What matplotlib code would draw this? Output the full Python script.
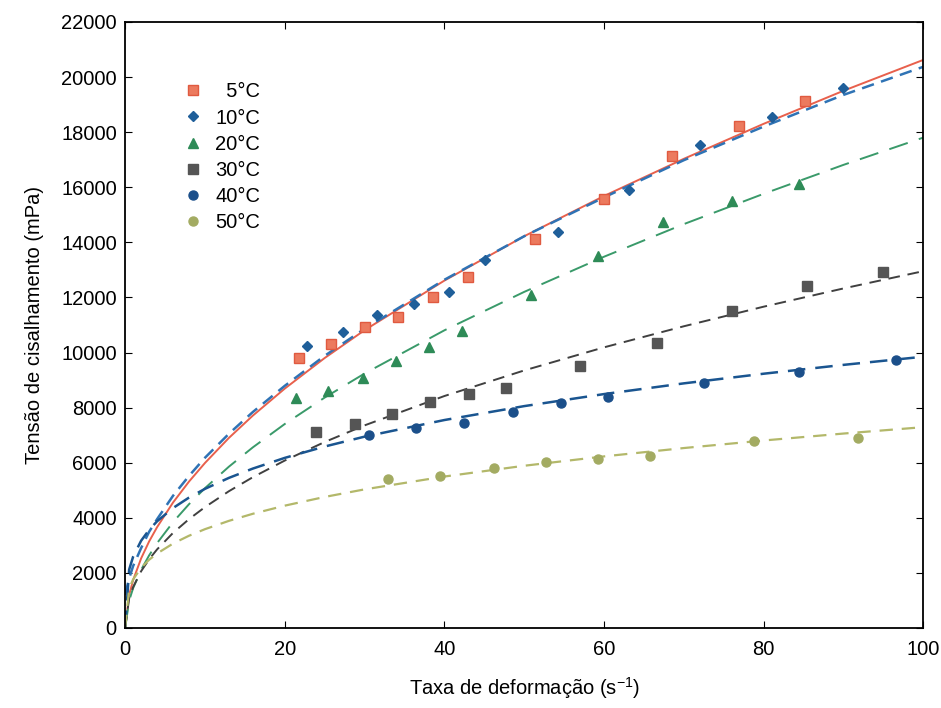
import numpy as np
import matplotlib
matplotlib.use("Agg")
import matplotlib.pyplot as plt

plt.rcParams['font.family'] = ['Liberation Sans', 'DejaVu Sans']
plt.rcParams['mathtext.default'] = 'regular'

# measured points (taxa de deformacao, tensao)
x5 = [21.75, 25.75, 30.1, 34.25, 38.6, 43.0, 51.4, 60.0, 68.5, 76.9, 85.25]
y5 = [9800, 10310, 10930, 11290, 12010, 12740, 14120, 15570, 17130, 18220, 19130]
x10 = [22.75, 27.25, 31.6, 36.25, 40.6, 45.1, 54.25, 63.1, 72.0, 81.0, 90.0]
y10 = [10240, 10740, 11360, 11760, 12200, 13360, 14370, 15900, 17530, 18550, 19600]
x20 = [21.4, 25.4, 29.75, 34.0, 38.1, 42.25, 50.9, 59.25, 67.4, 76.0, 84.4]
y20 = [8350, 8600, 9070, 9690, 10200, 10780, 12090, 13500, 14740, 15500, 16120]
x30 = [23.9, 28.75, 33.5, 38.25, 43.1, 47.75, 57.0, 66.6, 76.1, 85.4, 95.0]
y30 = [7110, 7410, 7770, 8210, 8500, 8710, 9510, 10350, 11510, 12410, 12920]
x40 = [30.5, 36.5, 42.5, 48.6, 54.6, 60.5, 72.5, 84.5, 96.6]
y40 = [7000, 7260, 7440, 7840, 8170, 8380, 8890, 9290, 9730]
x50 = [32.9, 39.5, 46.25, 52.75, 59.25, 65.75, 78.75, 91.9]
y50 = [5410, 5520, 5810, 6030, 6140, 6240, 6800, 6900]

# fitted curves
xfit = [0, 0.5, 1, 2, 3, 4, 6, 8, 10, 13, 16, 20, 25, 30, 40, 50, 60, 70, 80, 90, 100]
fit5 = [0, 1200, 1740, 2525, 3140, 3660, 4555, 5315, 5990, 6900, 7710, 8690, 9800,
        10810, 12610, 14220, 15680, 17030, 18300, 19500, 20620]
fit10 = [1200, 1800, 2250, 2900, 3490, 3950, 4800, 5520, 6180, 7050, 7840, 8790, 9880,
         10860, 12640, 14220, 15630, 16980, 18200, 19350, 20370]
fit20 = [0, 990, 1447, 2111, 2633, 3080, 3842, 4494, 5076, 5856, 6557, 7405, 8364,
         9237, 10805, 12200, 13476, 14660, 15760, 16810, 17800]
fit30 = [0, 1074, 1487, 2060, 2492, 2853, 3452, 3951, 4388, 4965, 5474, 6078, 6751,
         7355, 8420, 9349, 10187, 10952, 11663, 12325, 12952]
fit40 = [0, 2119, 2590, 3167, 3562, 3873, 4355, 4734, 5051, 5449, 5787, 6175, 6587,
         6946, 7549, 8054, 8491, 8880, 9230, 9551, 9847]
fit50 = [0, 1426, 1765, 2185, 2476, 2704, 3065, 3349, 3587, 3889, 4146, 4441, 4757,
         5032, 5498, 5889, 6229, 6532, 6806, 7058, 7290]

labels = ['  5°C', '10°C', '20°C', '30°C', '40°C', '50°C']

fig = plt.figure(figsize=(9.41, 7.08), dpi=100)
ax = fig.add_axes([0.133, 0.113, 0.848, 0.856])

# curves
ax.plot(xfit, fit5, '-', color='#e8604c', lw=1.4)
ax.plot(xfit, fit10, '--', color='#2f73b5', lw=1.8, dashes=(5, 3))
ax.plot(xfit, fit20, '--', color='#3a9a6a', lw=1.4, dashes=(10, 6))
ax.plot(xfit, fit30, '--', color='#404040', lw=1.4, dashes=(6, 4))
ax.plot(xfit, fit40, '--', color='#1a5590', lw=1.8, dashes=(7, 4))
ax.plot(xfit, fit50, '--', color='#b3b86a', lw=1.6, dashes=(6, 4))

# points
ax.plot(x5, y5, 's', color='#ec7a5e', mec='#e05a40', ms=6.5, ls='none', label=labels[0])
ax.plot(x10, y10, 'D', color='#1f5f9a', ms=5, ls='none', label=labels[1])
ax.plot(x20, y20, '^', color='#2e8b57', ms=6.5, ls='none', label=labels[2])
ax.plot(x30, y30, 's', color='#555555', ms=6.5, ls='none', label=labels[3])
ax.plot(x40, y40, 'o', color='#1b4f8a', ms=6.5, ls='none', label=labels[4])
ax.plot(x50, y50, 'o', color='#a3ab62', ms=6.5, ls='none', label=labels[5])

ax.set_xlim(0, 100)
ax.set_ylim(0, 22000)
ax.set_xticks(np.arange(0, 101, 20))
ax.set_yticks(np.arange(0, 22001, 2000))
ax.tick_params(direction='in', top=True, right=True, length=5, labelsize=14.5)
ax.tick_params(axis='x', pad=9)
ax.tick_params(axis='y', pad=6)
for s in ax.spines.values():
    s.set_linewidth(1.3)

ax.set_xlabel('Taxa de deformação (s$^{-1}$)', fontsize=14.5, labelpad=11)
ax.set_ylabel('Tensão de cisalhamento (mPa)', fontsize=14.5, labelpad=12)

ax.legend(loc='upper left', bbox_to_anchor=(0.05, 0.93), frameon=False, numpoints=1,
          fontsize=14.5, handletextpad=0.6, labelspacing=0.35, handlelength=1.0)

fig.savefig('out.png', dpi=100)
